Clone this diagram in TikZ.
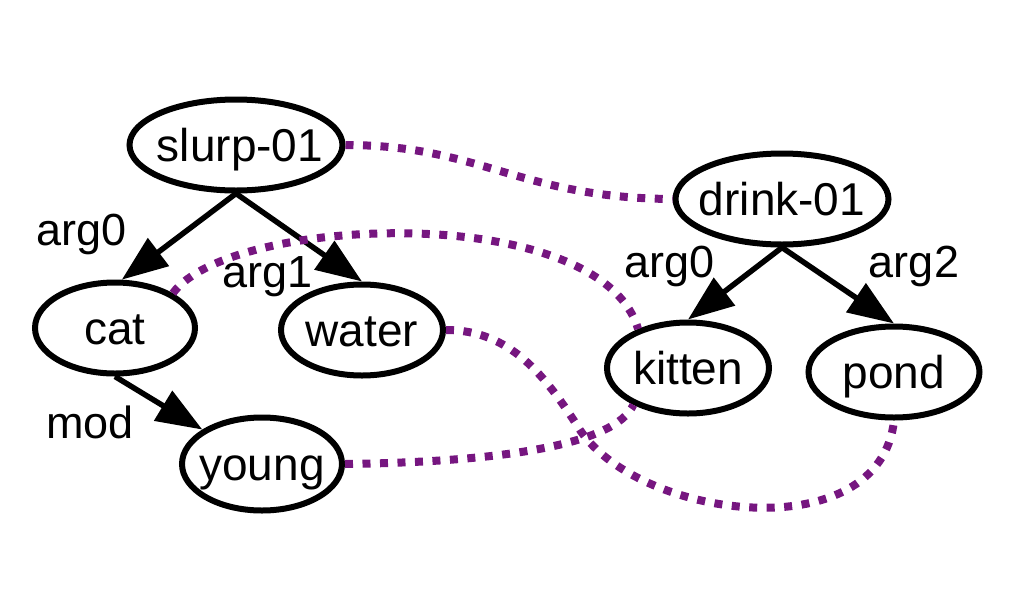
\documentclass[tikz,border=0pt]{standalone}
\usepackage{fontspec}
\setmainfont{Liberation Sans}
\usetikzlibrary{shapes.geometric,arrows.meta}
\definecolor{amrpurple}{RGB}{118,22,128}
\newcommand\ctext[1]{\makebox[0pt]{#1}}
\tikzset{
  concept/.style={ellipse, draw=black, line width=6pt, fill=white, inner sep=0pt,
    minimum height=91pt, text height=33pt, text depth=0pt,
    font=\fontsize{46}{50}\selectfont},
  rel/.style={line width=5.5pt, -{Triangle[length=46pt,width=34pt]}},
  rellabel/.style={anchor=base, inner sep=0pt, font=\fontsize{45}{50}\selectfont},
  align/.style={draw=amrpurple, line width=8pt, dash pattern=on 8pt off 9.5pt}
}
\begin{document}
\begin{tikzpicture}[x=1pt,y=-1pt]
\useasboundingbox (0,0) rectangle (1010,590);
\node[concept, minimum width=213pt] (slurp) at (236,145) {\ctext{\hspace{8pt}slurp-01}};
\node[concept, minimum width=213pt] (drink) at (782,199) {\ctext{drink-01}};
\node[concept, minimum width=160pt] (cat) at (115,328) {\ctext{cat}};
\node[concept, minimum width=162pt] (water) at (362,330) {\ctext{water}};
\node[concept, minimum width=162pt] (kitten) at (688,368) {\ctext{kitten}};
\node[concept, minimum width=171pt] (pond) at (894,372) {\ctext{pond}};
\node[concept, minimum width=160pt, minimum height=93pt] (young) at (262,464) {\ctext{young}};

\draw[rel] (slurp.south) -- (cat.82);
\draw[rel] (slurp.south) -- (water.north);
\draw[rel] (drink.south) -- (kitten.north);
\draw[rel] (drink.south) -- (pond.north);
\draw[rel] (cat.south) -- (young.150);

\node[rellabel] (l1) at (82,245) {arg0};
\node[rellabel] (l2) at (268,287) {arg1};
\node[rellabel] (l3) at (670,277) {arg0};
\node[rellabel] (l4) at (914,277) {arg2};
\node[rellabel] (l5) at (90,438) {mod};

\draw[align] (slurp.east) .. controls (480,145) and (520,198) .. (drink.west);
\draw[align] (cat.31) .. controls (230,215) and (600,200) .. (kitten.142);
\draw[align] (water.east) .. controls (510,330) and (545,375) .. (580,430)
  .. controls (640,520) and (880,550) .. (pond.south);
\draw[align] (young.east) .. controls (500,462) and (615,445) .. (kitten.-146);
\end{tikzpicture}
\end{document}
